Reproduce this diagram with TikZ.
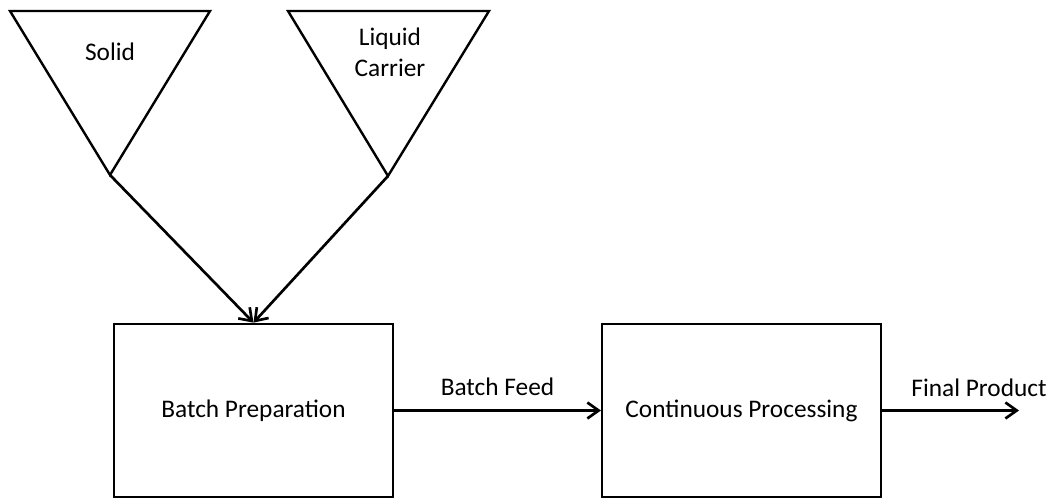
\documentclass[tikz,border=0pt]{standalone}
\usepackage{fontspec}
\setmainfont{Carlito}
\usetikzlibrary{calc}
\usetikzlibrary{positioning}
\usetikzlibrary{arrows.meta}
\tikzstyle{unitnode} = [draw, rectangle, line width=1.8pt, minimum width=209pt, minimum height=130pt, inner sep=0pt, font=\fontsize{19pt}{23pt}\selectfont]
\tikzstyle{labeltext} = [inner sep=0pt, align=center, font=\fontsize{19pt}{23pt}\selectfont]
\tikzstyle{hopper} = [line width=1.8pt, line join=miter]
\tikzstyle{flowline} = [line width=2pt, -{Straight Barb[length=8.5pt, width=12pt]}]

\begin{document}
\begin{tikzpicture}[x=0.75pt, y=-0.75pt]
\useasboundingbox (0,0) rectangle (1052,498);
\node[unitnode] (prep) at (253.5,410.5) {Batch Preparation};
\node[unitnode] (proc) at (741.5,410.5) {Continuous Processing};

% hoppers
\coordinate (solid_tip) at (110,175);
\coordinate (liquid_tip) at (388,176);
\draw[hopper] (10,11) -- (210,11) -- (solid_tip) -- cycle;
\draw[hopper] (288,11) -- (489,11) -- (liquid_tip) -- cycle;
\node[labeltext] (solid) at ($(solid_tip)+(0,-123)$) {Solid};
\node[labeltext] (liquid) at ($(liquid_tip)+(2,-124)$) {Liquid\\Carrier};

\draw[flowline] (solid_tip) -- (prep.north);
\draw[flowline] (liquid_tip) -- (prep.north);
\draw[flowline] (prep) -- node[labeltext, midway, above=10pt] (feed) {Batch Feed} (proc);

\coordinate (product) at ($(proc.east)+(137,0)$);
\draw[flowline] (proc) -- (product);
\node[labeltext, anchor=south] (final) at ($(proc.east)+(97,-14)$) {Final Product};
\end{tikzpicture}
\end{document}
